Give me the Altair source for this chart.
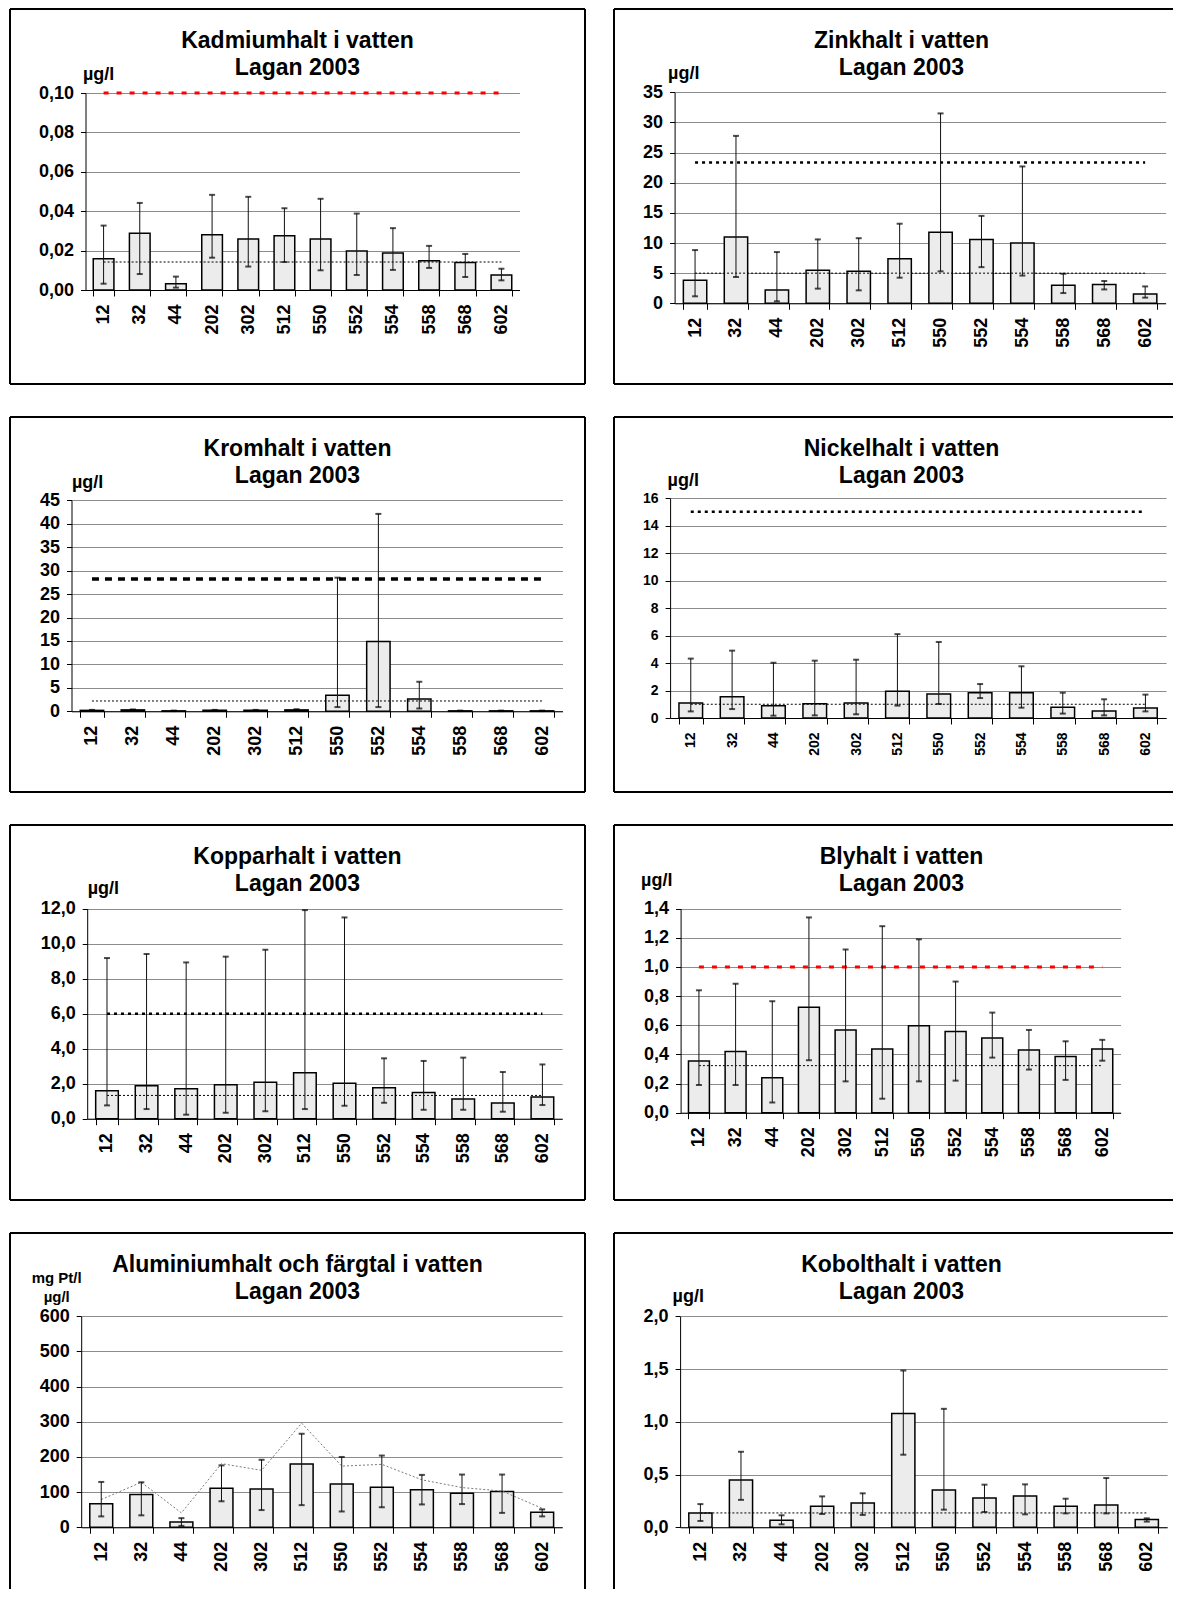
import altair as alt
import pandas as pd

stations = ["12", "32", "44", "202", "302", "512", "550", "552", "554", "558", "568", "602"]

# Kadmium (µg/l)
cd_mean = [0.0159, 0.0288, 0.0032, 0.0281, 0.0259, 0.0275, 0.0259, 0.0198, 0.0188, 0.0149, 0.0139, 0.0076]
cd_low = [0.0032, 0.0081, 0.0012, 0.0164, 0.0119, 0.0142, 0.0100, 0.0076, 0.0102, 0.0112, 0.0066, 0.0049]
cd_high = [0.0327, 0.0442, 0.0068, 0.0483, 0.0473, 0.0415, 0.0463, 0.0388, 0.0314, 0.0224, 0.0183, 0.0108]
cd_ticks = [0, 0.02, 0.04, 0.06, 0.08, 0.1]
cd_limit = 0.10
cd_ref = 0.0142

# Zink
zn_mean = [3.81, 10.99, 2.21, 5.47, 5.30, 7.40, 11.8, 10.6, 10.0, 3.0, 3.1, 1.55]
zn_low = [1.16, 4.36, 0.33, 2.43, 2.15, 4.25, 5.3, 6.0, 4.6, 1.7, 2.3, 0.94]
zn_high = [8.83, 27.77, 8.5, 10.6, 10.8, 13.2, 31.5, 14.5, 22.7, 4.9, 3.7, 2.8]
zn_ticks = [0, 5, 10, 15, 20, 25, 30, 35]
zn_limit = 23.36
zn_ref = 5.0

# Krom
cr_mean = [0.2, 0.3, 0.1, 0.2, 0.2, 0.3, 3.4, 14.9, 2.6, 0.1, 0.1, 0.1]
cr_low = [0.1, 0.2, 0.05, 0.1, 0.1, 0.2, 0.9, 0.9, 0.6, 0.05, 0.05, 0.05]
cr_high = [0.3, 0.4, 0.15, 0.3, 0.3, 0.45, 28.5, 42.1, 6.3, 0.15, 0.15, 0.15]
cr_ticks = [0, 5, 10, 15, 20, 25, 30, 35, 40, 45]
cr_limit = 28.2
cr_ref = 2.2

# Nickel
ni_mean = [1.09, 1.55, 0.9, 1.04, 1.09, 1.94, 1.75, 1.84, 1.84, 0.78, 0.51, 0.73]
ni_low = [0.48, 0.65, 0.17, 0.19, 0.27, 0.9, 1.02, 1.45, 0.75, 0.32, 0.19, 0.48]
ni_high = [4.32, 4.9, 4.02, 4.17, 4.24, 6.1, 5.53, 2.47, 3.76, 1.84, 1.36, 1.70]
ni_ticks = [0, 2, 4, 6, 8, 10, 12, 14, 16]
ni_limit = 15.0
ni_ref = 1.0

# Koppar
cu_mean = [1.60, 1.89, 1.71, 1.94, 2.08, 2.63, 2.02, 1.77, 1.50, 1.12, 0.90, 1.24]
cu_low = [0.76, 0.55, 0.23, 0.34, 0.42, 0.55, 0.74, 0.91, 0.51, 0.51, 0.40, 0.78]
cu_high = [9.18, 9.41, 8.93, 9.26, 9.66, 11.92, 11.5, 3.45, 3.30, 3.49, 2.67, 3.10]
cu_ticks = [0, 2, 4, 6, 8, 10, 12]
cu_limit = 6.0
cu_ref = 1.33

# Bly
pb_mean = [0.355, 0.42, 0.24, 0.724, 0.568, 0.438, 0.596, 0.557, 0.513, 0.431, 0.385, 0.438]
pb_low = [0.19, 0.19, 0.07, 0.36, 0.215, 0.096, 0.215, 0.22, 0.378, 0.296, 0.225, 0.357]
pb_high = [0.84, 0.885, 0.765, 1.34, 1.12, 1.28, 1.19, 0.90, 0.687, 0.568, 0.49, 0.50]
pb_ticks = [0, 0.2, 0.4, 0.6, 0.8, 1.0, 1.2, 1.4]
pb_limit = 1.0
pb_ref = 0.323

# Aluminium och färgtal
al_mean = [67, 93, 15, 111, 109, 180, 123, 114, 107, 97, 102, 43]
al_low = [31, 34, 4, 74, 49, 63, 45, 57, 65, 66, 41, 31]
al_high = [129, 128, 26, 176, 192, 266, 200, 204, 149, 150, 150, 51]
farg = [79, 128, 41, 181, 162, 296, 174, 179, 135, 113, 103, 54]
al_ticks = [0, 100, 200, 300, 400, 500, 600]

# Kobolt
co_mean = [0.136, 0.448, 0.066, 0.199, 0.23, 1.079, 0.353, 0.278, 0.297, 0.199, 0.211, 0.073]
co_low = [0.06, 0.26, 0.028, 0.126, 0.117, 0.688, 0.167, 0.145, 0.123, 0.132, 0.132, 0.054]
co_high = [0.22, 0.716, 0.114, 0.293, 0.322, 1.486, 1.123, 0.404, 0.407, 0.271, 0.467, 0.085]
co_ticks = [0, 0.5, 1.0, 1.5, 2.0]
co_ref = 0.136

FONT = "Liberation Sans"
one = pd.DataFrame({"k": [0]})

THIN = dict(color="black", strokeWidth=1, strokeDash=[2, 2])
THICKDOT = dict(color="black", strokeWidth=2.5, strokeDash=[3, 4])
THICKDASH = dict(color="black", strokeWidth=3.5, strokeDash=[7, 6])
RED = dict(color="#ff0000", strokeWidth=3, strokeDash=[5, 8])
GRAYLINE = dict(color="#7a7a7a", strokeWidth=1, strokeDash=[2, 2])

W1, W2 = 575, 559      # frame widths (right column runs to the page edge)
H_FULL, H_LAST = 375, 356


def fmt_expr(dec):
    if dec == 0:
        return "format(datum.value, 'd')"
    return "replace(format(datum.value, '.%df'), '.', ',')" % dec


def frame_layers(W, H, col, last_row):
    edges = [(0, W, 0, 0)]
    if not last_row:
        edges.append((0, W, H, H))
    edges.append((0, 0, 0, H))
    if col == 0:
        edges.append((W, W, 0, H))
    out = []
    for x1, x2, y1, y2 in edges:
        out.append(
            alt.Chart(one).mark_rule(color="black", strokeWidth=2).encode(
                x=alt.value(x1), x2=alt.value(x2), y=alt.value(y1), y2=alt.value(y2)
            )
        )
    return out


def make_panel(title1, unit, mean, low, high, ticks, dec, geom, col, last_row,
               unit_x, unit_y, refs, fs=18, unit_align="left", unit_fs=18):
    left, top, w, h = geom
    W = W1 if col == 0 else W2
    H = H_LAST if last_row else H_FULL
    df = pd.DataFrame({"station": stations, "mean": mean, "low": low, "high": high})
    xs = alt.Scale(domain=stations, range=[left, left + w], paddingInner=0.4286, paddingOuter=0.2143)
    ys = alt.Scale(domain=[0, ticks[-1]], range=[top + h, top], nice=False)
    xaxis = alt.Axis(title=None, offset=(top + h) - H, labelAngle=270, labelAlign="right",
                     labelBaseline="middle", labelFont=FONT, labelFontSize=fs,
                     labelFontWeight="bold", labelColor="black", labelPadding=8,
                     tickBand="extent", tickSize=6, tickColor="black", domainColor="black",
                     domainWidth=1, grid=False, labelOverlap=False)
    yaxis = alt.Axis(title=unit, offset=-left, titleAngle=0, titleAlign=unit_align,
                     titleBaseline="alphabetic", titleX=unit_x, titleY=top + unit_y,
                     titleFont=FONT, titleFontSize=unit_fs, titleFontWeight="bold",
                     titleColor="black", titleLineHeight=19, values=ticks,
                     labelExpr=fmt_expr(dec), labelFont=FONT, labelFontSize=fs,
                     labelFontWeight="bold", labelColor="black", labelPadding=7,
                     labelFlush=False, labelOverlap=False, tickSize=5, tickColor="black",
                     domainColor="black", domainWidth=1, grid=True, gridColor="#8c8c8c",
                     gridWidth=1)
    X = alt.X("station:N", scale=xs, axis=xaxis)
    bars = alt.Chart(df).mark_bar(fill="#ececec", stroke="black", strokeWidth=1.5).encode(
        x=X, y=alt.Y("mean:Q", scale=ys, axis=yaxis)
    )
    err = alt.Chart(df).mark_rule(color="#111111", strokeWidth=1).encode(
        x=X, y=alt.Y("low:Q", scale=ys, axis=yaxis), y2="high:Q"
    )
    cap_lo = alt.Chart(df).mark_tick(color="black", thickness=2, size=6, orient="horizontal").encode(
        x=X, y=alt.Y("low:Q", scale=ys, axis=yaxis)
    )
    cap_hi = alt.Chart(df).mark_tick(color="black", thickness=2, size=6, orient="horizontal").encode(
        x=X, y=alt.Y("high:Q", scale=ys, axis=yaxis)
    )
    layers = [bars]
    for vals, style in refs:
        if not isinstance(vals, list):
            vals = [vals] * len(stations)
        rdf = pd.DataFrame({"station": stations, "ref": vals})
        layers.append(
            alt.Chart(rdf).mark_line(**style).encode(x=X, y=alt.Y("ref:Q", scale=ys, axis=yaxis))
        )
    layers += [err, cap_lo, cap_hi]
    titles = []
    for txt, yy in [(title1, 39), ("Lagan 2003", 66)]:
        titles.append(
            alt.Chart(one).mark_text(
                text=txt, font=FONT, fontSize=23, fontWeight="bold", align="center",
                baseline="alphabetic", color="black"
            ).encode(x=alt.value(287.5), y=alt.value(yy))
        )
    return alt.layer(*layers, *frame_layers(W, H, col, last_row), *titles).properties(width=W, height=H)


p1 = make_panel("Kadmiumhalt i vatten", "µg/l", cd_mean, cd_low, cd_high, cd_ticks, 2,
                (75.5, 84, 434, 197), 0, False, -3, -14, [(cd_limit, RED), (cd_ref, THIN)])
p2 = make_panel("Zinkhalt i vatten", "µg/l", zn_mean, zn_low, zn_high, zn_ticks, 0,
                (60.6, 83.3, 491, 211), 1, False, -7, -14, [(zn_limit, THICKDOT), (zn_ref, THIN)])
p3 = make_panel("Kromhalt i vatten", "µg/l", cr_mean, cr_low, cr_high, cr_ticks, 0,
                (61.5, 83.3, 491, 211), 0, False, 0, -13, [(cr_limit, THICKDASH), (cr_ref, THIN)])
p4 = make_panel("Nickelhalt i vatten", "µg/l", ni_mean, ni_low, ni_high, ni_ticks, 0,
                (56.1, 81, 496, 220), 1, False, -3, -13, [(ni_limit, THICKDOT), (ni_ref, THIN)],
                fs=14)
p5 = make_panel("Kopparhalt i vatten", "µg/l", cu_mean, cu_low, cu_high, cu_ticks, 1,
                (77.2, 83.7, 475, 210), 0, False, 0, -15, [(cu_limit, THICKDOT), (cu_ref, THIN)])
p6 = make_panel("Blyhalt i vatten", "µg/l", pb_mean, pb_low, pb_high, pb_ticks, 1,
                (66.6, 83.7, 440, 204), 1, False, -40, -23, [(pb_limit, RED), (pb_ref, THIN)])
p7 = make_panel("Aluminiumhalt och färgtal i vatten", ["mg Pt/l", "µg/l"],
                al_mean, al_low, al_high, al_ticks, 0,
                (71.2, 83.3, 481, 211), 0, True, -25, -34, [(farg, GRAYLINE)],
                unit_align="center", unit_fs=15)
p8 = make_panel("Kobolthalt i vatten", "µg/l", co_mean, co_low, co_high, co_ticks, 1,
                (66.1, 83.3, 487, 211), 1, True, -8, -15, [(co_ref, THIN)])

chart = alt.concat(p1, p2, p3, p4, p5, p6, p7, p8, columns=2, bounds="flush",
                   spacing={"row": 33, "column": 29}).properties(
    padding={"left": -7, "top": 0, "right": 0, "bottom": 0}
)
chart = chart.configure(background="white").configure_view(stroke=None)

chart.save("out.html", embed_options={"renderer": "svg", "actions": False})
